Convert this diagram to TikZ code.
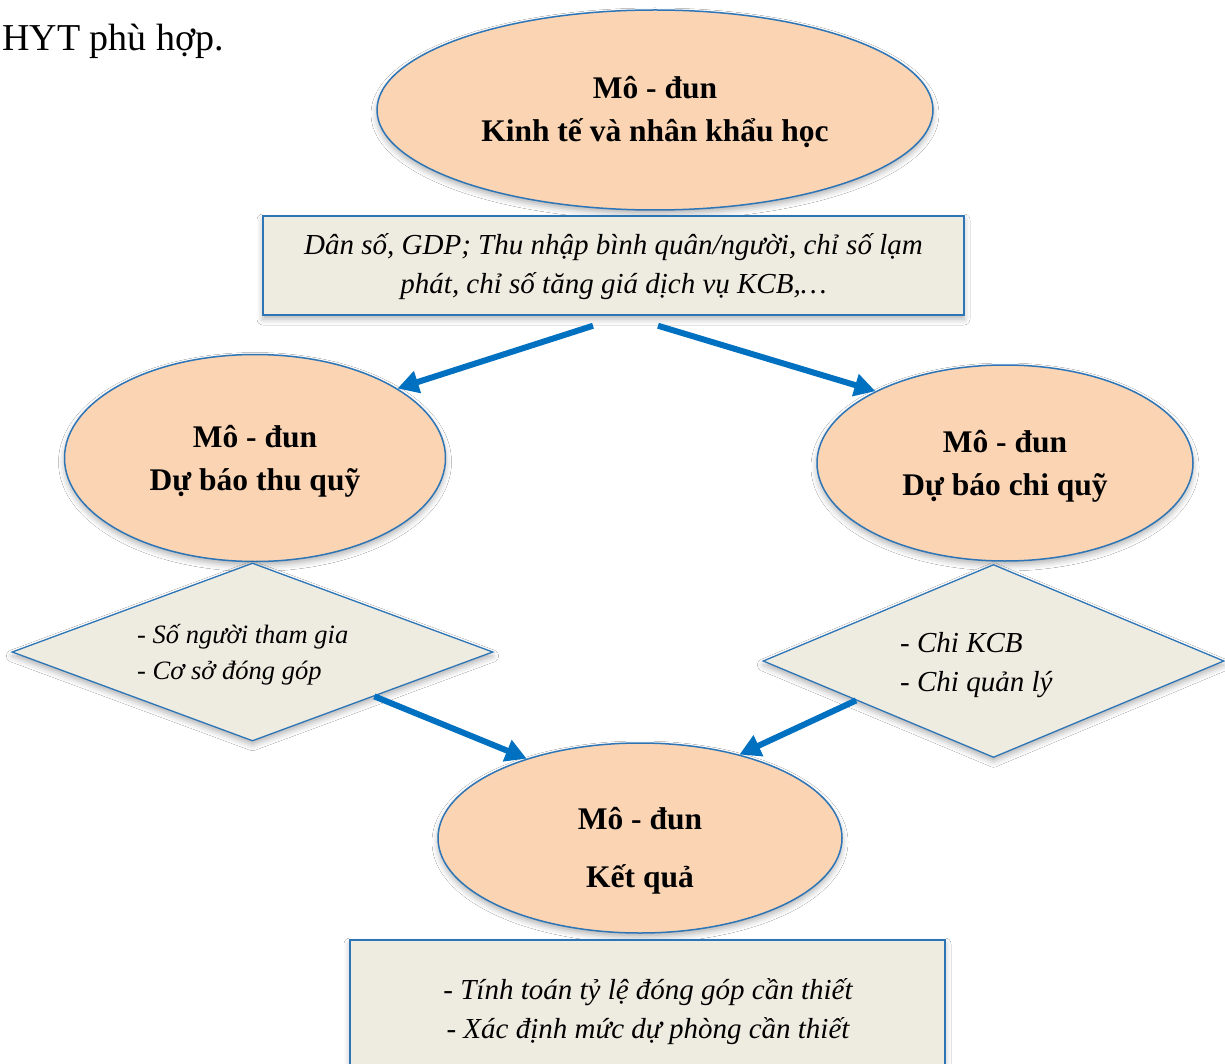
\documentclass[tikz,border=0pt]{standalone}
\usepackage{fontspec}
\setmainfont{Liberation Serif}
\usetikzlibrary{shapes.geometric,arrows.meta,shadows.blur}

\definecolor{peach}{HTML}{FBD4B4}
\definecolor{edgeblue}{HTML}{2E75B6}
\definecolor{panel}{HTML}{EEECE1}
\definecolor{arrowblue}{HTML}{0070C0}

\tikzset{
  softshadow/.style={blur shadow={shadow xshift=0pt, shadow yshift=-4pt,
      shadow blur radius=6pt, shadow opacity=30}},
  module/.style={ellipse, draw=edgeblue, line width=1.5pt, fill=peach,
      inner sep=0pt, softshadow},
  infobox/.style={rectangle, draw=edgeblue, line width=1.5pt, fill=panel,
      inner sep=0pt, softshadow},
  factor/.style={diamond, draw=edgeblue, line width=1.3pt, fill=panel,
      inner sep=0pt, softshadow},
  title/.style={font=\fontsize{31.5}{43}\selectfont\bfseries, align=center},
  note/.style={font=\fontsize{29}{39}\selectfont\itshape},
  flow/.style={draw=arrowblue, line width=6pt,
      -{Triangle[length=21pt,width=22pt]}},
}

\begin{document}
\begin{tikzpicture}[x=1pt,y=-1pt]
  \useasboundingbox[fill=white] (0,0) rectangle (1225,1064);

  % running text line above the chart
  \node[anchor=base west, inner sep=0pt, font=\fontsize{38}{44}\selectfont]
    (lead) at (2,51) {HYT phù hợp.};

  % module: economy and demography
  \node[module, minimum width=556, minimum height=200] (econ) at (655,110) {};
  \node[title] (econtext) at (655,112) {Mô - đun\\Kinh tế và nhân khẩu học};

  \node[infobox, minimum width=701, minimum height=99] (inputs) at (613.5,265.5) {};
  \node[note, align=center] (inputstext) at (613.5,266.5)
    {Dân số, GDP; Thu nhập bình quân/người, chỉ số lạm\\phát, chỉ số tăng giá dịch vụ KCB,…};

  % module: revenue forecast
  \node[module, minimum width=381, minimum height=207] (rev) at (255,458) {};
  \node[title] (revtext) at (255,461.5) {Mô - đun\\Dự báo thu quỹ};

  % module: expenditure forecast
  \node[module, minimum width=376, minimum height=196] (exp) at (1005,463) {};
  \node[title] (exptext) at (1005,466) {Mô - đun\\Dự báo chi quỹ};

  % revenue factors
  \node[factor, minimum width=481, minimum height=178] (revf) at (252.5,652) {};
  \node[anchor=west, align=left, inner sep=0pt,
        font=\fontsize{26.5}{36}\selectfont\itshape] (revftext) at (137,655)
    {- Số người tham gia\\- Cơ sở đóng góp};

  % expenditure factors
  \node[factor, minimum width=461, minimum height=193] (expf) at (993.5,661) {};
  \node[note, anchor=west, align=left, inner sep=0pt] (expftext) at (900,665)
    {- Chi KCB\\- Chi quản lý};

  % module: result
  \node[module, minimum width=404, minimum height=190] (res) at (640,838) {};
  \node[font=\fontsize{31.5}{58}\selectfont\bfseries, align=center]
    (restext) at (640,851) {Mô - đun\\Kết quả};

  \node[infobox, minimum width=595, minimum height=160] (outputs) at (647.5,1020) {};
  \node[note, align=center] (outputstext) at (648,1011.5)
    {- Tính toán tỷ lệ đóng góp cần thiết\\- Xác định mức dự phòng cần thiết};

  % flow arrows
  \draw[flow] ([xshift=-20.5pt,yshift=-10pt]inputs.south) -- (rev.26);
  \draw[flow] ([xshift=44.5pt,yshift=-10pt]inputs.south) -- (exp.151);
  \draw[flow] (revf.-20) -- (res.145);
  \draw[flow] (expf.-164.5) -- (res.40);
\end{tikzpicture}
\end{document}
